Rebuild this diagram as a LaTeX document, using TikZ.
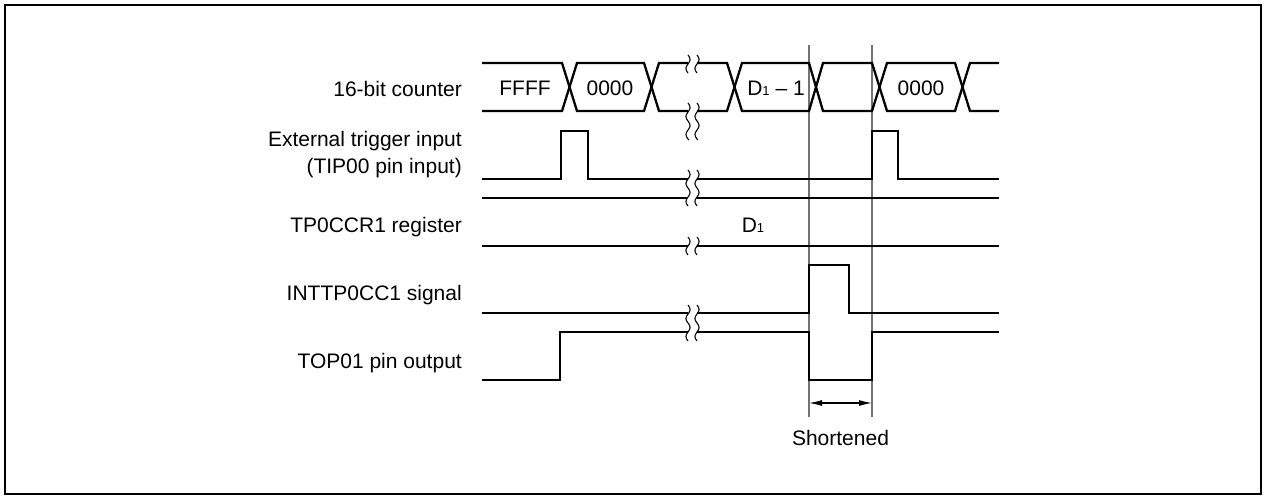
\documentclass[tikz,border=0pt]{standalone}
\usepackage{fontspec}
\setmainfont{Liberation Sans}
\usetikzlibrary{arrows.meta}
\tikzset{
  sig/.style={line width=2.3pt, line join=miter},
  guide/.style={line width=1.1pt, draw=black!55},
  wave/.style={line width=1.1pt},
  lbl/.style={anchor=base east, inner sep=0pt, font=\fontsize{21}{27}\selectfont},
  val/.style={anchor=base, inner sep=0pt, font=\fontsize{21}{27}\selectfont},
  dim/.style={line width=1.1pt, {Latex[length=13pt,width=6pt]}-{Latex[length=13pt,width=6pt]}}
}
\newcommand{\brkmark}[2]{%
  \draw[wave] plot[variable=\t, domain=#1:#2, samples=40, smooth] ({688+2*sin((\t-#1)/18*360)},\t);
  \draw[wave] plot[variable=\t, domain=#1:#2, samples=40, smooth] ({697+2*sin((\t-#1)/18*360)},\t);}
\newcommand{\subone}{{\fontsize{13}{13}\selectfont 1}}
\begin{document}
\begin{tikzpicture}[x=1pt,y=-1pt]
\useasboundingbox (0,0) rectangle (1264,496);
\draw[line width=2.6pt] (5,5) rectangle (1261,494);

% guide lines
\coordinate (g1t) at (809,45); \coordinate (g1b) at (809,417);
\coordinate (g2t) at (872,45); \coordinate (g2b) at (872,417);
\draw[guide] (g1t) -- (g1b);
\draw[guide] (g2t) -- (g2b);

% labels
\node[lbl] (l1) at (462,96) {16-bit counter};
\node[lbl] (l2a) at (462,146.5) {External trigger input};
\node[lbl] (l2b) at (462,173) {(TIP00 pin input)};
\node[lbl] (l3) at (462,232) {TP0CCR1 register};
\node[lbl] (l4) at (462,300) {INTTP0CC1 signal};
\node[lbl] (l5) at (462,368) {TOP01 pin output};

% 16-bit counter bus
\draw[sig] (482,63) -- (562,63) -- (577,111) -- (644,111) -- (659,63) -- (688,63);
\draw[sig] (482,111) -- (562,111) -- (577,63) -- (644,63) -- (659,111) -- (688,111);
\draw[sig] (697,63) -- (727,63) -- (742,111) -- (809,111) -- (823,63) -- (872,63) -- (887,111) -- (955,111) -- (970,63) -- (999,63);
\draw[sig] (697,111) -- (727,111) -- (742,63) -- (809,63) -- (823,111) -- (872,111) -- (887,63) -- (955,63) -- (970,111) -- (999,111);
\node[val] (v1) at (525,95.5) {FFFF};
\node[val] (v2) at (610,95.5) {0000};
\node[val] (v3) at (776,95.5) {D\subone\ \char"2013\ 1};
\node[val] (v4) at (921,95.5) {0000};

% trigger
\draw[sig] (482,179) -- (561,179) -- (561,131) -- (588,131) -- (588,179) -- (688,179);
\draw[sig] (697,179) -- (872,179) -- (872,131) -- (898,131) -- (898,179) -- (999,179);

% TP0CCR1 register
\draw[sig] (482,198) -- (688,198);
\draw[sig] (697,198) -- (999,198);
\draw[sig] (482,246) -- (688,246);
\draw[sig] (697,246) -- (999,246);
\node[val] (v5) at (753,232) {D\subone};

% INTTP0CC1
\draw[sig] (482,313) -- (688,313);
\draw[sig] (697,313) -- (809,313) -- (809,265) -- (849,265) -- (849,313) -- (999,313);

% TOP01
\draw[sig] (482,380) -- (560,380) -- (560,332) -- (688,332);
\draw[sig] (697,332) -- (809,332) -- (809,380) -- (872,380) -- (872,332) -- (999,332);

% break marks
\brkmark{55}{73}
\brkmark{103}{140}
\brkmark{170}{206}
\brkmark{237}{255}
\brkmark{305}{341}

% shortened
\coordinate (a1) at (809,403);
\coordinate (a2) at (872,403);
\draw[dim] (a1) -- (a2);
\node[val] (sh) at (840.5,445) {Shortened};
\end{tikzpicture}
\end{document}
